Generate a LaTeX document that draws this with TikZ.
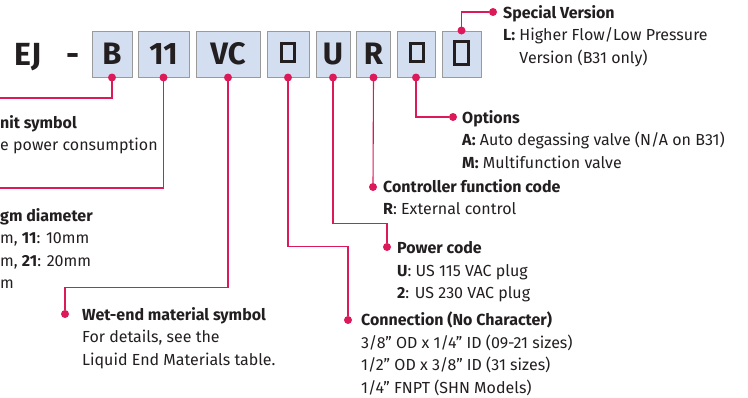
\documentclass[tikz,border=0pt]{standalone}
\usepackage{fontspec}
\setmainfont{Fira Sans}
\definecolor{codepink}{HTML}{DC1A5A}
\definecolor{boxblue}{HTML}{D3DFF1}
\definecolor{boxgray}{HTML}{9A9A9A}
\definecolor{textdark}{HTML}{231F20}
\begin{document}
\begin{tikzpicture}[x=1pt,y=-1pt,
	codebox/.style={draw=boxgray,fill=boxblue,line width=1pt,minimum height=46pt,inner sep=0pt,text=textdark,font=\fontsize{31}{31}\selectfont\bfseries},
	blank/.style={draw=textdark,line width=3pt,inner sep=0pt,minimum width=13pt,minimum height=18pt},
	pinkdot/.style={circle,fill=codepink,inner sep=0pt,minimum size=8pt},
	lead/.style={draw=codepink,line width=1.1pt},
	info/.style={anchor=north west,align=left,inner sep=0pt,text=textdark,font=\fontsize{16}{22.5}\selectfont}]
			\useasboundingbox (0,0) rectangle (748,397);
			\clip (0,0) rectangle (748,397);
			\node[anchor=base,inner sep=0pt,text=textdark,font=\fontsize{32}{32}\selectfont\bfseries] (ej) at (28,65) {EJ};
			\node[anchor=base,inner sep=0pt,text=textdark,font=\fontsize{32}{32}\selectfont\bfseries] (dash) at (73,65) {-};
			\node[codebox,minimum width=40pt] (bB) at (112,54) {B};
			\node[codebox,minimum width=51pt] (b11) at (163.5,54) {11};
			\node[codebox,minimum width=64pt] (bVC) at (228,54) {VC};
			\node[codebox,minimum width=42pt] (bCon) at (288,54) {};
			\node[codebox,minimum width=34pt] (bU) at (333,54) {U};
			\node[codebox,minimum width=34pt] (bR) at (373.5,54) {R};
			\node[codebox,minimum width=38pt] (bOpt) at (416,54) {};
			\node[codebox,minimum width=39pt] (bSp) at (461.5,54) {};
			\node[blank] (gCon) at (288,52.5) {};
			\node[blank] (gOpt) at (416.5,52.5) {};
			\node[blank,minimum width=14pt,minimum height=23pt] (gSp) at (461.5,53) {};
			% leader end points
			\coordinate (lB) at (0,98);
			\coordinate (l11) at (0,188);
			\node[pinkdot] (dWet) at (65,314) {};
			\node[pinkdot] (dCon) at (348,320) {};
			\node[pinkdot] (dPow) at (387,247) {};
			\node[pinkdot] (dCtl) at (373,187) {};
			\node[pinkdot] (dOpt) at (453,117) {};
			\node[pinkdot] (dSp) at (493,12) {};
			\draw[lead] (bB.south) |- (lB);
			\draw[lead] (b11.south) |- (l11);
			\draw[lead] (bVC.south) -- ++(0,210) -| (dWet);
			\draw[lead] (bCon.south) -- ++(0,169) -| (dCon);
			\draw[lead] (bU.south) -- ++(0,146) -| (dPow);
			\draw[lead] (bR.south) -- (dCtl);
			\draw[lead] (bOpt.south) |- (dOpt);
			\draw[lead] (bSp.north) |- (dSp);
			\node[pinkdot] (pB) at (bB.south) {};
			\node[pinkdot] (p11) at (b11.south) {};
			\node[pinkdot] (pVC) at (bVC.south) {};
			\node[pinkdot] (pCon) at (bCon.south) {};
			\node[pinkdot] (pU) at (bU.south) {};
			\node[pinkdot] (pR) at (bR.south) {};
			\node[pinkdot] (pOpt) at (bOpt.south) {};
			\node[pinkdot] (pSp) at (bSp.north) {};
			% texts
			\node[info] (tDrive) at (0,115) {\textbf{nit symbol}\\e power consumption};
			\node[info] (tDia) at (0,208) {\textbf{gm diameter}\\m, \textbf{11}: 10mm\\m, \textbf{21}: 20mm\\m};
			\node[info] (tWet) at (82,307) {\textbf{Wet-end material symbol}\\For details, see the\\Liquid End Materials table.};
			\node[info] (tCon) at (361,312) {\textbf{Connection (No Character)}\\3/8'' OD x 1/4'' ID (09-21 sizes)\\1/2'' OD x 3/8'' ID (31 sizes)\\1/4'' FNPT (SHN Models)};
			\node[info] (tPow) at (397,241.5) {\textbf{Power code}\\\textbf{U}: US 115 VAC plug\\\textbf{2}: US 230 VAC plug};
			\node[info] (tCtl) at (383,179) {\textbf{Controller function code}\\\textbf{R}: External control};
			\node[info] (tOpt) at (462,110) {\textbf{Options}\\\textbf{A:} Auto degassing valve (N/A on B31)\\\textbf{M:} Multifunction valve};
			\node[info] (tSp) at (503,5) {\textbf{Special Version}\\\textbf{L:} Higher Flow/Low Pressure\\\phantom{\textbf{L:} }Version (B31 only)};
\end{tikzpicture}
\end{document}
